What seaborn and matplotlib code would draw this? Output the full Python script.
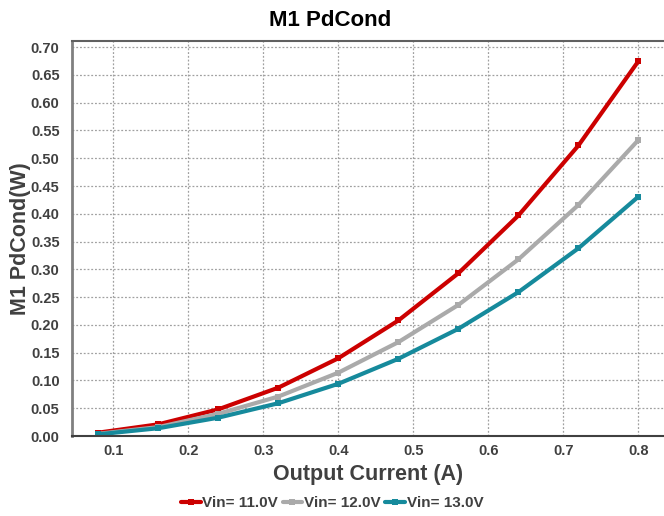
import matplotlib
matplotlib.use("Agg")
import matplotlib.pyplot as plt
import seaborn as sns
import pandas as pd
from matplotlib.lines import Line2D

current = [0.08, 0.16, 0.24, 0.32, 0.40, 0.48, 0.56, 0.64, 0.72, 0.80]
vin11 = [0.006, 0.021, 0.048, 0.087, 0.140, 0.208, 0.293, 0.397, 0.523, 0.675]
vin12 = [0.004, 0.016, 0.040, 0.071, 0.114, 0.169, 0.236, 0.318, 0.416, 0.533]
vin13 = [0.003, 0.014, 0.033, 0.059, 0.094, 0.139, 0.193, 0.259, 0.338, 0.431]
series_names = ["Vin= 11.0V", "Vin= 12.0V", "Vin= 13.0V"]
colors = ["#CC0000", "#AAAAAA", "#168A9C"]

df = pd.concat([
    pd.DataFrame({"I": current, "P": v, "Series": n})
    for v, n in zip([vin11, vin12, vin13], series_names)
])

sns.set_style("white")
plt.rcParams["font.family"] = ["Liberation Sans", "DejaVu Sans"]

fig = plt.figure(figsize=(6.64, 5.16), dpi=100)
ax = fig.add_axes([72/664, 1-436/516, 1-72/664, (436-41)/516])

sns.lineplot(data=df, x="I", y="P", hue="Series", palette=colors, ax=ax,
             marker="s", markersize=4.5, markeredgewidth=0, linewidth=3,
             legend=False)

ax.set_xlim(0.045, 0.834)
ax.set_ylim(0, 0.711)
ax.set_xticks([0.1, 0.2, 0.3, 0.4, 0.5, 0.6, 0.7, 0.8])
ax.set_yticks([i*0.05 for i in range(15)])
ax.set_xticklabels(["0.1", "0.2", "0.3", "0.4", "0.5", "0.6", "0.7", "0.8"])
ax.set_yticklabels([f"{i*0.05:.2f}" for i in range(15)])
ax.grid(True, color="#A0A0A0", linestyle=(0, (1.5, 1.5)), linewidth=0.9)
for lab in ax.get_xticklabels() + ax.get_yticklabels():
    lab.set_fontweight("bold")
    lab.set_color("#404040")
    lab.set_fontsize(10.5)
ax.tick_params(axis="both", length=0)
ax.tick_params(axis="y", pad=9)
ax.tick_params(axis="x", pad=6)

ax.spines["right"].set_visible(False)
ax.spines["top"].set_color("#606060")
ax.spines["top"].set_linewidth(1.5)
ax.spines["bottom"].set_color("#404040")
ax.spines["bottom"].set_linewidth(1.5)
ax.spines["left"].set_color("#808080")
ax.spines["left"].set_linewidth(2)

ax.set_xlabel("Output Current (A)", fontsize=15.5, fontweight="bold", color="#404040", labelpad=4)
ax.set_ylabel("M1 PdCond(W)", fontsize=15.5, fontweight="bold", color="#404040", labelpad=0)
fig.text(0.497, 1-20/516, "M1 PdCond", ha="center", va="center", fontsize=16, fontweight="bold", color="black")

handles = [Line2D([0], [0], color=c, lw=3, marker="s", markersize=5, markeredgewidth=0) for c in colors]
leg = fig.legend(handles, series_names, loc="center", bbox_to_anchor=(0.5, 1-503/516), ncol=3,
                 frameon=False, handlelength=1.3, handletextpad=0.1, columnspacing=0.3,
                 prop={"weight": "bold", "size": 11})
for t in leg.get_texts():
    t.set_color("#404040")

fig.savefig("out.png", dpi=100)
